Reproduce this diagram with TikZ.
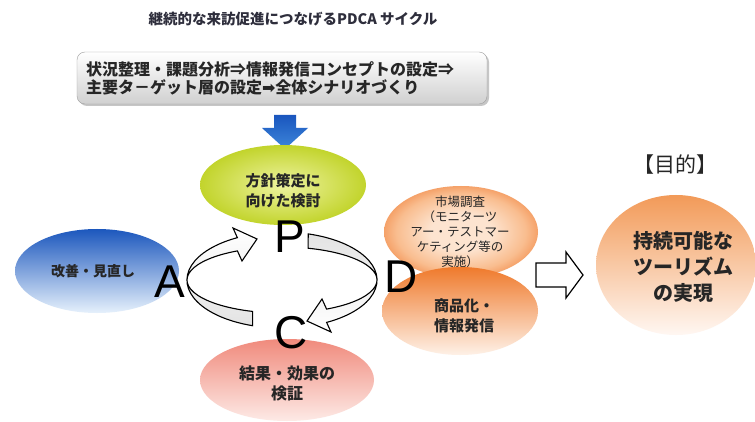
\documentclass[tikz,border=0pt]{standalone}
\usepackage{fontspec}
\newfontfamily\jp{Noto Sans CJK JP}
\newfontfamily\lat{Liberation Sans}
\newfontfamily\sym{DejaVu Sans}
\usetikzlibrary{shapes.geometric}
\definecolor{txt}{HTML}{262626}
\definecolor{titlec}{HTML}{2E2E3C}
\definecolor{boxgray}{HTML}{D0D0D0}
\definecolor{blueA}{HTML}{1A56BE}
\definecolor{blueB}{HTML}{3D86DA}
\definecolor{ygIn}{HTML}{EEF3A0}
\definecolor{ygOut}{HTML}{C2D42C}
\definecolor{aTop}{HTML}{1C57BD}
\definecolor{aMid}{HTML}{4F8EDB}
\definecolor{aBot}{HTML}{E6F1FC}
\definecolor{cTop}{HTML}{F08A7C}
\definecolor{cMid}{HTML}{F7B7AE}
\definecolor{cBot}{HTML}{FDEAE6}
\definecolor{oTop}{HTML}{EF7A2C}
\definecolor{oMid}{HTML}{F9BD8F}
\definecolor{oBot}{HTML}{FEF1E7}
\definecolor{oIn}{HTML}{FDE4D0}
\definecolor{oOut}{HTML}{F0803A}
\definecolor{gTop}{HTML}{F29A58}
\definecolor{gMid}{HTML}{FAD2B2}
\definecolor{gBot}{HTML}{FFF7F2}
\pgfdeclareradialshading{dglow}{\pgfpoint{0bp}{0bp}}{color(0bp)=(oIn); color(10bp)=(oIn); color(21bp)=(oMid); color(30bp)=(oOut); color(50bp)=(oOut)}
\tikzset{
  blob/.style={ellipse, inner sep=0pt},
  lbl/.style={align=center, text=txt, font=\jp\bfseries#1},
  lbl/.default={\fontsize{15}{20}\selectfont},
  big/.style={anchor=base, text=black, font=\lat\fontsize{46}{46}\selectfont},
  ribbon/.style={draw=black, line width=1.1pt},
}
\begin{document}
\begin{tikzpicture}[x=1pt,y=-1pt]
\useasboundingbox (0,0) rectangle (755,422);
\fill[white] (0,0) rectangle (755,422);

% title
\node[text=titlec, font=\jp\bfseries\fontsize{14.5}{16}\selectfont] (title) at (293,19)
  {継続的な来訪促進につなげるPDCA サイクル};

% top box
\fill[gray!45, rounded corners=8pt] (79,54) rectangle (489,106);
\node[draw=gray!75, rounded corners=8pt, top color=white, bottom color=boxgray,
      text width=392pt, inner xsep=9pt, inner ysep=0pt, minimum height=52pt, align=left,
      text=txt, font=\jp\bfseries\fontsize{16}{18}\selectfont] (box) at (282,78)
  {状況整理・課題分析⇒情報発信コンセプトの設定⇒\\主要タ－ゲット層の設定{\sym ➡}全体シナリオづくり};

% blue arrow
\shade[top color=blueA, bottom color=blueB]
  (274,115) -- (296,115) -- (296,128) -- (308,128) -- (285,149) -- (262,128) -- (274,128) -- cycle;

% P ellipse
\node[blob, minimum width=166pt, minimum height=80pt, inner color=ygIn, outer color=ygOut] (pe) at (283,185) {};
\node[lbl] (pt) at (283,191) {方針策定に\\向けた検討};

% A ellipse
\node[blob, minimum width=164pt, minimum height=84pt, top color=aTop, middle color=aMid, bottom color=aBot] (ae) at (97,271) {};
\node[lbl={\fontsize{14}{18}\selectfont}] (at) at (93,271) {改善・見直し};

% C ellipse
\node[blob, minimum width=174pt, minimum height=82pt, top color=cTop, middle color=cMid, bottom color=cBot] (ce) at (287,380) {};
\node[lbl={\fontsize{16}{20}\selectfont}] (ct) at (287,383) {結果・効果の\\検証};

% D ellipses
\node[blob, minimum width=154pt, minimum height=92pt, shading=dglow] (de1) at (461,232) {};
\node[align=center, text=txt, font=\jp\fontsize{12.5}{15}\selectfont] (dt1) at (460,232)
  {市場調査\\（モニターツ\\アー・テストマー\\ケティング等の\\実施）};
\node[blob, minimum width=156pt, minimum height=88pt, top color=oTop, middle color=oMid, bottom color=oBot] (de2) at (460,311) {};
\node[lbl] (dt2) at (464,316) {商品化・\\情報発信};

% cycle ribbons
\shadedraw[ribbon, top color=white, bottom color=gray!22]
  (252.6,325.7) arc[start angle=108, end angle=242, x radius=95, y radius=48]
  -- (233,228) -- (257,239) -- (242,261) -- (237.4,250.9)
  arc[start angle=242, end angle=108, x radius=95, y radius=33] -- cycle;
\shadedraw[ribbon, top color=gray!22, bottom color=white]
  (308.2,233.9) arc[start angle=286, end angle=422, x radius=95, y radius=48]
  -- (331,332) -- (307,321) -- (322,299) -- (326.6,309.1)
  arc[start angle=422, end angle=286, x radius=95, y radius=33] -- cycle;

% letters
\node[big] (lP) at (290,253) {P};
\node[big] (lA) at (170,297) {A};
\node[big] (lD) at (401,292) {D};
\node[big] (lC) at (291,348) {C};

% hollow arrow
\draw[line width=1.2pt, fill=white]
  (536,263) -- (566,263) -- (566,252) -- (583,275) -- (566,298) -- (566,287) -- (536,287) -- cycle;

% goal
\node[text=txt, font=\jp\fontsize{21}{24}\selectfont] (goalh) at (675,165) {【目的】};
\node[blob, minimum width=160pt, minimum height=140pt, top color=gTop, middle color=gMid, bottom color=gBot] (ge) at (676,265) {};
\node[lbl={\fontsize{20}{26}\selectfont}] (gt) at (683,267) {持続可能な\\ツーリズム\\の実現};
\end{tikzpicture}
\end{document}
